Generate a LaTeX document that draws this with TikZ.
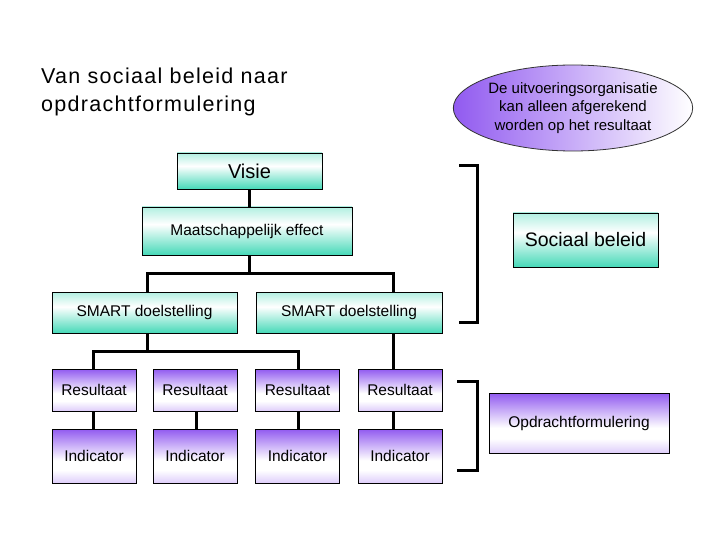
\documentclass[tikz,border=0pt]{standalone}
\usepackage{fontspec}
\setmainfont{Liberation Sans}
\usetikzlibrary{shapes.geometric}
\definecolor{pp}{RGB}{145,90,240}
\definecolor{tl}{RGB}{60,215,180}
% 0bp..25bp = below the box, 25bp = bottom edge, 75bp = top edge
\pgfdeclareverticalshading{purpsh}{100bp}{color(0bp)=(pp!30); color(25bp)=(pp!30); color(37bp)=(white); color(46bp)=(white); color(75bp)=(pp); color(100bp)=(pp)}
\pgfdeclareverticalshading{tealsh}{100bp}{color(0bp)=(tl!95); color(25bp)=(tl!95); color(57bp)=(white); color(75bp)=(tl!40); color(100bp)=(tl!40)}
\tikzset{
  tbox/.style={draw=black, line width=0.9pt, shading=tealsh, inner sep=0pt, font=\fontsize{15.5}{18}\selectfont},
  pbox/.style={draw=black, line width=0.9pt, shading=purpsh, inner sep=0pt, font=\fontsize{15.5}{18}\selectfont},
  conn/.style={line width=3pt, black},
  brk/.style={line width=3pt, black, line cap=rect},
}
\begin{document}
\begin{tikzpicture}[x=1pt,y=1pt]
\useasboundingbox (0,0) rectangle (720,-540);
% title
\node[anchor=base west, inner sep=0pt, font=\fontsize{21.5}{28}\selectfont\addfontfeatures{LetterSpace=6}] (t1) at (41,-84) {Van sociaal beleid naar};
\node[anchor=base west, inner sep=0pt, font=\fontsize{21.5}{28}\selectfont\addfontfeatures{LetterSpace=6}] (t2) at (41,-112) {opdrachtformulering};
% ellipse
\node[ellipse, draw=black!80, line width=0.8pt, left color=pp, right color=white, minimum width=216pt, minimum height=86pt, inner sep=0pt, align=center, font=\fontsize{15}{18.5}\selectfont] (ell) at (573,-108) {De uitvoeringsorganisatie\\kan alleen afgerekend\\worden op het resultaat};
% teal boxes
\node[tbox, minimum width=145pt, minimum height=36pt, font=\fontsize{20}{24}\selectfont] (visie) at (249.5,-171) {Visie};
\node[tbox, minimum width=210pt, minimum height=48pt] (maat) at (247,-231) {Maatschappelijk effect};
\node[tbox, minimum width=185pt, minimum height=41pt] (smartL) at (144.5,-312.5) {SMART doelstelling};
\node[tbox, minimum width=186pt, minimum height=41pt] (smartR) at (349,-312.5) {SMART doelstelling};
\node[tbox, minimum width=145pt, minimum height=54pt, font=\fontsize{19.5}{24}\selectfont] (soc) at (585.5,-240) {Sociaal beleid};
% purple boxes
\foreach \i/\x in {1/94,2/195,3/297.5,4/400}{
  \node[pbox, minimum width=84pt, minimum height=42pt] (res\i) at (\x,-390) {Resultaat};
  \node[pbox, minimum width=84pt, minimum height=54pt] (ind\i) at (\x,-456) {Indicator};
}
\node[pbox, minimum width=180pt, minimum height=60pt] (opd) at (579,-423) {Opdrachtformulering};
% junction coordinates
\coordinate (xM) at (249,0);
\coordinate (jA) at (249,-273);
\coordinate (xL) at (147,0);
\coordinate (xR) at (393,0);
\coordinate (jB) at (147,-351);
\coordinate (x1) at (93,0);
\coordinate (x2) at (196,0);
\coordinate (x3) at (298,0);
% connectors
\draw[conn] (visie.south -| xM) -- (maat.north -| xM);
\draw[conn] (maat.south -| xM) -- (jA);
\draw[conn] (smartL.north -| xL) |- (jA) -| (smartR.north -| xR);
\draw[conn] (smartL.south -| xL) -- (jB);
\draw[conn] (res1.north -| x1) |- (jB) -| (res3.north -| x3);
\draw[conn] (res2.north -| x2) -- (res2.north -| x2 |- jB);
\draw[conn] (smartR.south -| xR) -- (res4.north -| xR);
\draw[conn] (res1.south -| x1) -- (ind1.north -| x1);
\draw[conn] (res2.south -| x2) -- (ind2.north -| x2);
\draw[conn] (res3.south -| x3) -- (ind3.north -| x3);
\draw[conn] (res4.south -| xR) -- (ind4.north -| xR);
% brackets
\coordinate (b1a) at (460,-166);
\coordinate (b1b) at (477,-166);
\coordinate (b1c) at (477,-322);
\coordinate (b1d) at (460,-322);
\draw[brk] (b1a) -- (b1b) -- (b1c) -- (b1d);
\coordinate (b2a) at (458,-381);
\coordinate (b2b) at (477,-381);
\coordinate (b2c) at (477,-470);
\coordinate (b2d) at (458,-470);
\draw[brk] (b2a) -- (b2b) -- (b2c) -- (b2d);
\end{tikzpicture}
\end{document}
